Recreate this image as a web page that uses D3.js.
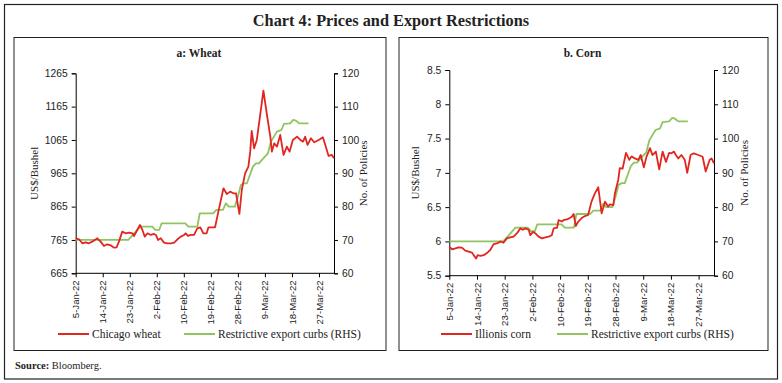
<!DOCTYPE html>
<html lang="en">
<head>
<meta charset="utf-8">
<title>Chart 4: Prices and Export Restrictions</title>
<script src="https://d3js.org/d3.v7.min.js"></script>
<style>
  body { margin: 0; background: #fff; }
  svg { font-family: "Liberation Serif", serif; }
  .tick text { font-size: 10.3px; fill: #222; }
  .x-axis .tick text { font-size: 9.6px; }
  .axis path, .axis line { stroke: #000; }
</style>
</head>
<body>
<svg id="chart" width="782" height="383"></svg>
<script>
// x positions are days after 5-Jan-2022
const xTickDays = [0, 9, 18, 27, 36, 45, 54, 63, 72, 81];
const xTickLabels = ["5-Jan-22", "14-Jan-22", "23-Jan-22", "2-Feb-22", "10-Feb-22",
                     "19-Feb-22", "28-Feb-22", "9-Mar-22", "18-Mar-22", "27-Mar-22"];

// restrictive export curbs (RHS), same series in both panels
const curbDays = [0, 17.5, 18.5, 19.5, 20.5, 21.5, 25.5, 26.5, 27.8, 28.6, 36.5, 37.5, 40.5, 41.3,
                  45.8, 46.8, 49, 50, 51, 53, 54, 55, 56, 57, 58, 59, 60, 61, 62, 63, 64, 65,
                  66, 67, 68.5, 69.3, 71.4, 72.4, 73.3, 74.4, 77.5];
const curbValues = [70, 70, 71, 72, 73, 74, 74, 73, 73, 75, 75, 74, 74, 78,
                    78, 79, 79, 81, 80, 80, 83, 86.5, 87, 87, 89.5, 92, 93, 93, 94, 95, 96, 99.5,
                    101, 102.5, 103, 104.8, 105, 106, 105.8, 105, 105];

// Chicago wheat, US$/bushel
const wheatDays = [0, 1.1, 2.2, 3.3, 4.4, 5.5, 7.2, 8.3, 9.4, 10.5, 11.6, 12.8, 13.6, 14.4, 15.5,
                   16.6, 17.8, 18.9, 19.4, 20.5, 21.4, 22.2, 23, 23.9, 25, 26.1, 26.7, 27.4, 28.3,
                   29.4, 30.5, 31.7, 32.8, 33.9, 35, 36.1, 36.6, 37.4, 38.3, 39.4, 40.5, 41.5,
                   42.5, 43.6, 44.2, 46.4, 47.5, 49.2, 50.3, 51.4, 52.5, 53.4, 53.9, 54.5, 55.3,
                   56.4, 57.5, 58.1, 58.6, 59.4, 60.3, 61.2, 62.5, 63.6, 64.8, 65.3, 66.1, 67,
                   68.1, 69.2, 70.3, 71.2, 72.3, 73.7, 74.8, 75.7, 76.4, 77.2, 78.3, 79.4, 80.9,
                   82.3, 83.1, 84.2, 85.3, 86];
const wheatValues = [770, 767, 755, 758, 755, 760, 770, 760, 747, 752, 749, 742, 743, 760, 790,
                     785, 787, 785, 777, 795, 810, 795, 775, 785, 780, 783, 780, 765, 770,
                     757, 755, 755, 757, 767, 775, 780, 785, 777, 780, 780, 800, 803,
                     785, 785, 803, 803, 850, 920, 903, 910, 905, 905, 875, 843, 915,
                     965, 985, 1030, 1092, 1040, 1065, 1125, 1213, 1145, 1075, 1030, 1055, 1045,
                     1080, 1020, 1045, 1030, 1065, 1075, 1065, 1060, 1075, 1050, 1070, 1058, 1065,
                     1073, 1050, 1017, 1020, 1010];

// Illinois corn, US$/bushel
const cornDays = [0, 0.9, 2, 3, 4.1, 5.2, 6.3, 7.4, 7.9, 8.7, 9.2, 10.1, 11.2, 12.2, 13.3, 14.4,
                  15.5, 16.6, 17.6, 18.7, 19.8, 20.9, 22, 23.1, 23.9, 24.7, 25.8, 26.3, 27.2,
                  27.9, 29, 30.1, 31.2, 32.3, 33.3, 33.9, 35, 35.5, 36.6, 37.1, 38.2, 39.1, 39.8,
                  40.4, 41.1, 41.9, 43, 44.1, 45.1, 46.2, 47.3, 48.4, 49.5, 50.6, 51.6, 52.2,
                  53.3, 53.8, 54.9, 55.4, 56.3, 57.4, 58.5, 59.2, 60.3, 61.4, 62.2, 63.2, 64.1,
                  65.2, 66, 67.1, 68.2, 69.3, 70.4, 71.4, 72.2, 73, 73.6, 74.4, 75.4, 76.5, 77.3,
                  78.4, 79.4, 80.9, 82.3, 83.3, 84.6, 85.2, 86];
const cornValues = [5.92, 5.885, 5.9, 5.914, 5.91, 5.865, 5.85, 5.835, 5.8, 5.75, 5.8, 5.79, 5.8,
                    5.83, 5.875, 5.96, 5.97, 6.0, 5.98, 6.045, 6.06, 6.07, 6.12, 6.19, 6.17, 6.19,
                    6.17, 6.09, 6.14, 6.12, 6.07, 6.045, 6.06, 6.07, 6.09, 6.19, 6.2, 6.31, 6.29,
                    6.31, 6.32, 6.34, 6.36, 6.4, 6.225, 6.29, 6.34, 6.37, 6.385, 6.58, 6.7, 6.79,
                    6.41, 6.58, 6.51, 6.54, 6.53, 6.7, 6.9, 7.07, 7.06, 7.29, 7.19, 7.24, 7.21,
                    7.19, 7.26, 7.08, 7.24, 7.36, 7.26, 7.31, 7.05, 7.31, 7.16, 7.29, 7.285, 7.31,
                    7.26, 7.21, 7.26, 7.19, 7.0, 7.26, 7.285, 7.26, 7.235, 7.02, 7.19, 7.21, 7.14];

const wheatTicks = [665, 765, 865, 965, 1065, 1165, 1265];
const cornTicks = [5.5, 6, 6.5, 7, 7.5, 8, 8.5];
const policyTicks = [60, 70, 80, 90, 100, 110, 120];

const red = "#e0261f";
const green = "#8fc461";

const svg = d3.select("#chart");

// outer frame and main title
svg.append("rect")
    .attr("x", 4.5).attr("y", 4.5)
    .attr("width", 773).attr("height", 374.5)
    .attr("fill", "none").attr("stroke", "#222").attr("stroke-width", 1.2);

svg.append("text")
    .attr("x", 391).attr("y", 26)
    .attr("text-anchor", "middle")
    .attr("font-size", 16.3).attr("font-weight", "bold").attr("fill", "#222")
    .text("Chart 4: Prices and Export Restrictions");

svg.append("text")
    .attr("x", 15).attr("y", 369)
    .attr("font-size", 10.5).attr("fill", "#222")
    .html('<tspan font-weight="bold">Source:</tspan> Bloomberg.');

function drawPanel(p) {
    // panel box
    svg.append("rect")
        .attr("x", p.box[0]).attr("y", p.box[1])
        .attr("width", p.box[2]).attr("height", p.box[3])
        .attr("fill", "none").attr("stroke", "#222").attr("stroke-width", 1);

    svg.append("text")
        .attr("x", p.titleX).attr("y", 56.5)
        .attr("text-anchor", "middle")
        .attr("font-size", 11.5).attr("font-weight", "bold").attr("fill", "#222")
        .text(p.title);

    const x = d3.scaleLinear().domain([0, 86]).range([p.left, p.right]);
    const yL = d3.scaleLinear().domain(d3.extent(p.leftTicks)).range([p.bottom, p.top]);
    const yR = d3.scaleLinear().domain([60, 120]).range([p.bottom, p.top]);

    svg.append("g")
        .attr("class", "axis x-axis")
        .attr("transform", `translate(0,${p.bottom})`)
        .call(d3.axisBottom(x).tickValues(xTickDays).tickSize(4)
            .tickFormat((d, i) => xTickLabels[i]))
        .call(g => g.select(".domain").attr("d", `M${p.left},0H${p.right}`))
        .selectAll("text")
        .attr("transform", "rotate(-90)")
        .attr("text-anchor", "end")
        .attr("x", -7).attr("y", 0).attr("dy", "0.32em");

    svg.append("g")
        .attr("class", "axis")
        .attr("transform", `translate(${p.left},0)`)
        .call(d3.axisLeft(yL).tickValues(p.leftTicks).tickSize(4).tickPadding(4)
            .tickFormat(d => String(d)));

    svg.append("g")
        .attr("class", "axis")
        .attr("transform", `translate(${p.right},0)`)
        .call(d3.axisRight(yR).tickValues(policyTicks).tickSize(4).tickPadding(4));

    svg.append("text")
        .attr("transform", `translate(${p.yLabelL},${(p.top + p.bottom) / 2}) rotate(-90)`)
        .attr("text-anchor", "middle")
        .attr("font-size", 11).attr("fill", "#222")
        .text("US$/Bushel");

    svg.append("text")
        .attr("transform", `translate(${p.yLabelR},${(p.top + p.bottom) / 2}) rotate(-90)`)
        .attr("text-anchor", "middle")
        .attr("font-size", 11).attr("fill", "#222")
        .text("No. of Policies");

    const priceLine = d3.line().x(d => x(d[0])).y(d => yL(d[1]));
    const curbLine = d3.line().x(d => x(d[0])).y(d => yR(d[1]));

    svg.append("path")
        .datum(d3.zip(curbDays, curbValues))
        .attr("d", curbLine)
        .attr("fill", "none").attr("stroke", green).attr("stroke-width", 1.8)
        .attr("stroke-linejoin", "round");

    svg.append("path")
        .datum(d3.zip(p.days, p.values))
        .attr("d", priceLine)
        .attr("fill", "none").attr("stroke", red).attr("stroke-width", 1.8)
        .attr("stroke-linejoin", "round");

    // legend
    const legend = [
        { label: p.seriesName, color: red, x: p.legendX[0] },
        { label: "Restrictive export curbs (RHS)", color: green, x: p.legendX[1] }
    ];
    legend.forEach(l => {
        svg.append("line")
            .attr("x1", l.x).attr("x2", l.x + 31)
            .attr("y1", 334).attr("y2", 334)
            .attr("stroke", l.color).attr("stroke-width", 2);
        svg.append("text")
            .attr("x", l.x + 34).attr("y", 337.5)
            .attr("font-size", 11.5).attr("fill", "#222")
            .text(l.label);
    });
}

drawPanel({
    title: "a: Wheat", titleX: 199,
    box: [14, 37.5, 372, 313],
    left: 75.7, right: 334, top: 73.3, bottom: 273.3,
    leftTicks: wheatTicks,
    yLabelL: 38, yLabelR: 367,
    days: wheatDays, values: wheatValues,
    seriesName: "Chicago wheat",
    legendX: [58, 184]
});

drawPanel({
    title: "b. Corn", titleX: 582.5,
    box: [399, 37.5, 369, 313],
    left: 449.3, right: 714, top: 70, bottom: 275.7,
    leftTicks: cornTicks,
    yLabelL: 419, yLabelR: 748,
    days: cornDays, values: cornValues,
    seriesName: "Illionis corn",
    legendX: [441, 557]
});
</script>
</body>
</html>
